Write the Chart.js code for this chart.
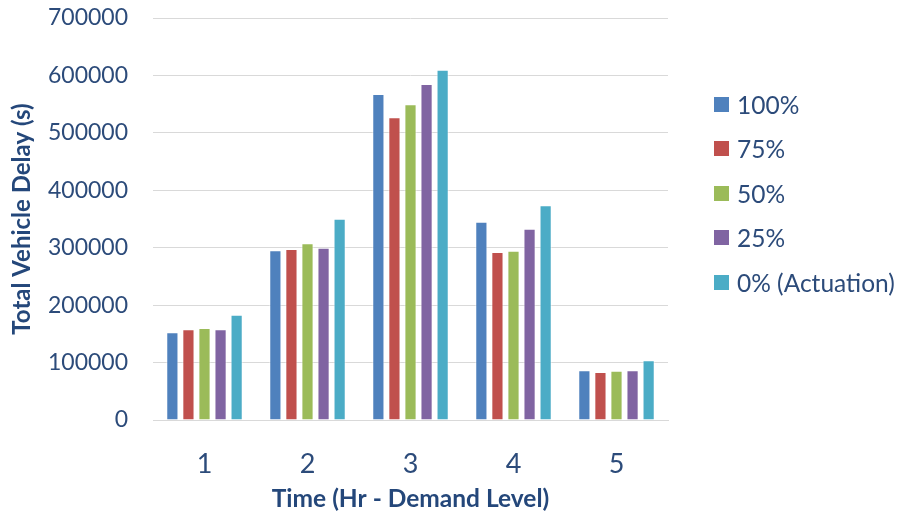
<!DOCTYPE html>
<html>
<head>
<meta charset="utf-8">
<script src="https://cdn.jsdelivr.net/npm/chart.js@4/dist/chart.umd.min.js"></script>
<style>
  html, body { margin: 0; padding: 0; background: #fff; }
  #wrap { position: relative; width: 900px; height: 514px; }
  #legend { position: absolute; left: 714px; top: 82px; font-family: Lato, "Open Sans", sans-serif; font-size: 24.5px; color: #2C4B7A; }
  #legend .item { height: 44.5px; display: flex; align-items: center; }
  #legend .box { width: 15px; height: 15px; margin-right: 8px; }
</style>
</head>
<body>
<div id="wrap">
  <canvas id="c" width="900" height="514"></canvas>
  <div id="legend"></div>
</div>
<script>
const categories = ["1", "2", "3", "4", "5"];
const seriesNames = ["100%", "75%", "50%", "25%", "0% (Actuation)"];
const s100 = [152700, 295500, 567700, 345300, 86500];
const s75  = [158000, 297800, 527000, 292500, 83600];
const s50  = [160200, 307700, 549700, 294800, 85900];
const s25  = [158000, 300000, 585000, 333100, 86500];
const s0   = [183400, 350600, 610000, 373800, 104000];
const colors = ["#4F81BD", "#C0504D", "#9BBB59", "#8064A2", "#4BACC6"];
const yTicks = [0, 100000, 200000, 300000, 400000, 500000, 600000, 700000];

const seriesValues = [s100, s75, s50, s25, s0];
const textColor = "#2C4B7A";
const titleColor = "#24477A";
const fam = "Lato, 'Open Sans', sans-serif";

const datasets = seriesNames.map((n, i) => ({
  label: n,
  data: seriesValues[i],
  backgroundColor: colors[i],
  borderColor: "rgba(255,255,255,0.6)",
  borderWidth: 1,
  barPercentage: 0.76,
  categoryPercentage: 0.78
}));

new Chart(document.getElementById("c"), {
  type: "bar",
  data: { labels: categories, datasets },
  options: {
    responsive: false,
    animation: false,
    layout: { padding: { top: 18, right: 232, left: 0, bottom: 0 } },
    plugins: { legend: { display: false }, tooltip: { enabled: false } },
    scales: {
      x: {
        grid: { display: false, drawTicks: false },
        border: { display: true, color: "#D9D9D9", width: 1 },
        ticks: { color: textColor, font: { family: fam, size: 27 }, padding: 28 },
        title: { display: true, text: "Time (Hr - Demand Level)", color: titleColor,
                 font: { family: fam, size: 24.5, weight: "bold" }, padding: { top: 4, bottom: 0 } },
        afterFit(s) { s.height = 94; }
      },
      y: {
        min: 0, max: 700000,
        afterBuildTicks(s) { s.ticks = yTicks.map(v => ({ value: v })); },
        grid: { color: "#D9D9D9", lineWidth: 1, drawTicks: false },
        border: { display: false },
        ticks: { color: textColor, font: { family: fam, size: 23 }, padding: 25,
                 callback: v => String(v) },
        title: { display: true, text: "Total Vehicle Delay (s)", color: titleColor,
                 font: { family: fam, size: 24, weight: "bold" }, padding: { top: 8, bottom: 0 } },
        afterFit(s) { s.width = 153; s.paddingTop = 0; s.paddingBottom = 0; }
      }
    }
  }
});

const lg = document.getElementById("legend");
seriesNames.forEach((n, i) => {
  const d = document.createElement("div");
  d.className = "item";
  const b = document.createElement("span");
  b.className = "box";
  b.style.background = colors[i];
  const t = document.createElement("span");
  t.textContent = n;
  d.appendChild(b); d.appendChild(t);
  lg.appendChild(d);
});
</script>
</body>
</html>
